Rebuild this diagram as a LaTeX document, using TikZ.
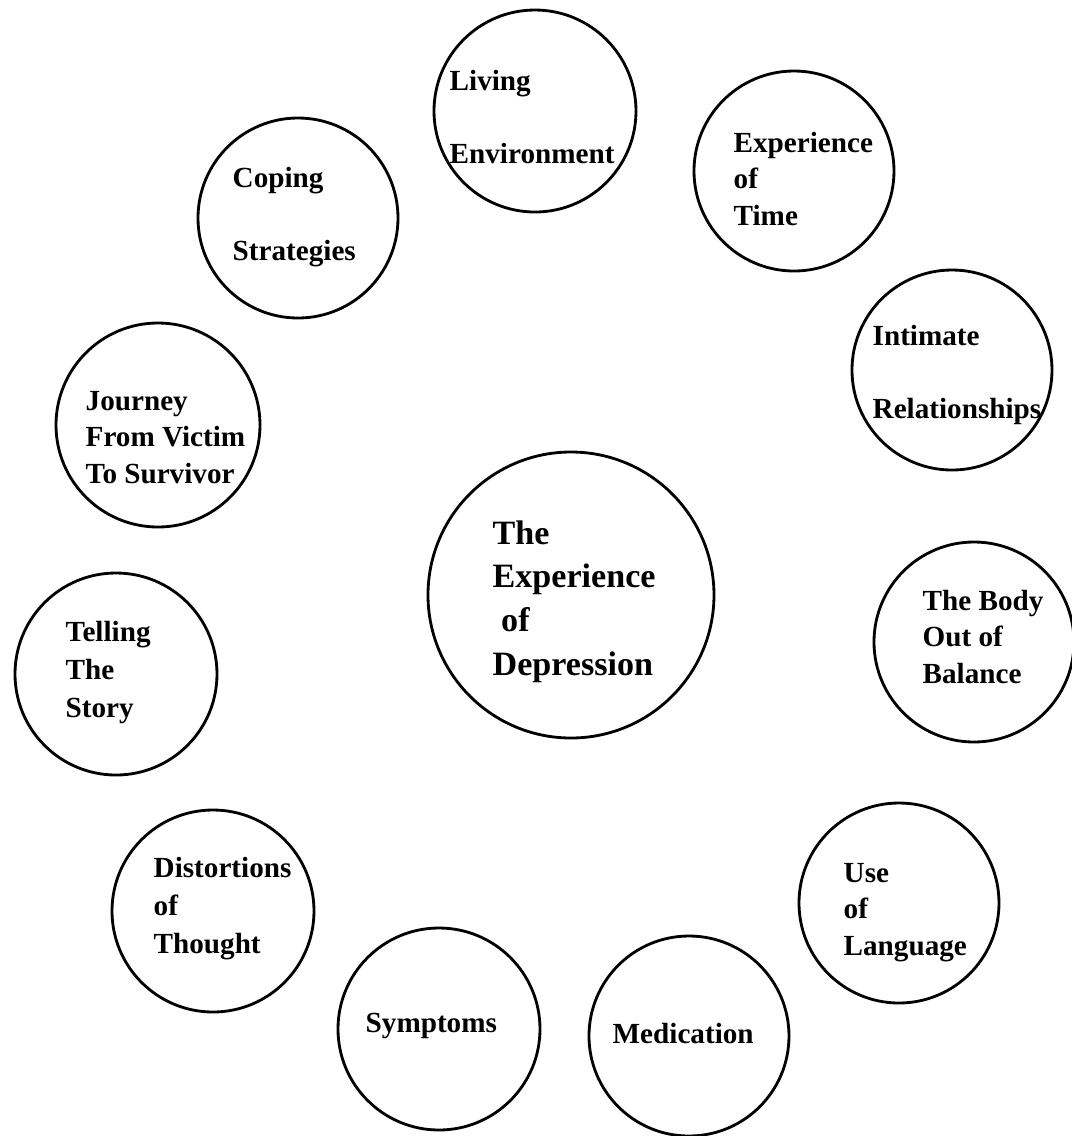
\documentclass[tikz,border=0pt]{standalone}
\usepackage{fontspec}
\setmainfont{Liberation Serif}
\usepackage{tikz}
\newcommand{\topicfont}{\fontsize{8.3}{10.3}\selectfont\bfseries}
\newcommand{\hubfont}{\fontsize{9.7}{12.4}\selectfont\bfseries}

\begin{document}
\begin{tikzpicture}[x=1cm, y=-1cm,
  topic/.style={circle, draw=black, line width=0.8pt, inner sep=0pt, minimum size=2cm},
  lbl/.style={anchor=base west, align=left, inner sep=0pt, font=\topicfont}]
\useasboundingbox (0,0) rectangle (10.72,11.36);
% centre
\node[topic, minimum size=2.86cm] (hub) at (5.71,5.95) {};
\node[lbl, font=\hubfont] (hubtxt) at (4.92,6.75) {The\\Experience\\\ of\\Depression};
% top row
\node[topic, minimum size=2.02cm] (living) at (5.35,1.11) {};
\node[lbl] (livingtxt) at (4.49,1.63) {Living\\[10.3pt]Environment};
\node[topic] (time) at (7.94,1.71) {};
\node[lbl] (timetxt) at (7.33,2.25) {Experience\\of\\Time};
\node[topic] (coping) at (2.98,2.18) {};
\node[lbl] (copingtxt) at (2.32,2.60) {Coping\\[10.3pt]Strategies};
% right side
\node[topic] (intimate) at (9.52,3.70) {};
\node[lbl] (intimatetxt) at (8.72,4.18) {Intimate\\[10.3pt]Relationships};
\node[topic] (body) at (9.74,6.42) {};
\node[lbl] (bodytxt) at (9.22,6.83) {The Body\\Out of\\Balance};
\node[topic] (language) at (8.99,9.03) {};
\node[lbl] (languagetxt) at (8.43,9.55) {Use\\of\\Language};
% left side
\node[topic, minimum size=2.04cm] (journey) at (1.58,4.25) {};
\node[lbl] (journeytxt) at (0.85,4.83) {Journey\\From Victim\\To Survivor};
\node[topic, minimum size=2.02cm] (telling) at (1.16,6.74) {};
\node[lbl, font=\fontsize{8.3}{10.7}\selectfont\bfseries] (tellingtxt) at (0.65,7.17) {Telling\\The\\Story};
\node[topic, minimum size=2.02cm] (distort) at (2.13,9.11) {};
\node[lbl, font=\fontsize{8.3}{10.7}\selectfont\bfseries] (distorttxt) at (1.53,9.53) {Distortions\\of\\Thought};
% bottom
\node[topic, minimum size=2.02cm] (symptoms) at (4.39,10.29) {};
\node[lbl] (symptomstxt) at (3.65,10.32) {Symptoms};
\node[topic] (medication) at (6.89,10.36) {};
\node[lbl] (medicationtxt) at (6.12,10.43) {Medication};
\end{tikzpicture}
\end{document}
